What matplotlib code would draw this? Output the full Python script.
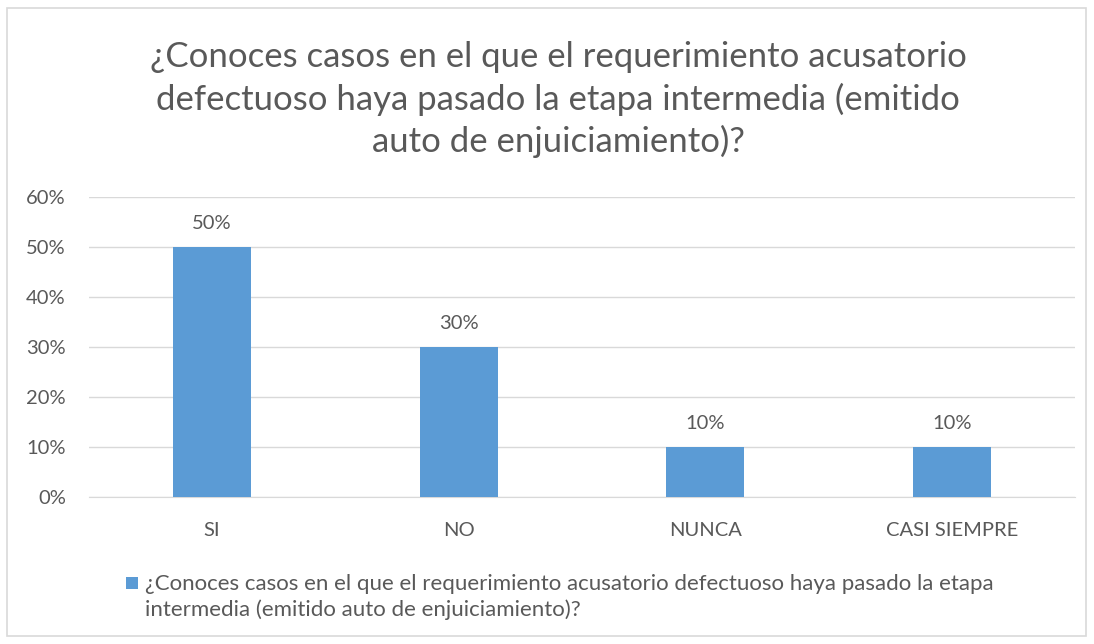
import matplotlib.pyplot as plt
from matplotlib.patches import Rectangle

# Data
categories = ["SI", "NO", "NUNCA", "CASI SIEMPRE"]
values = [0.50, 0.30, 0.10, 0.10]
yticks = [0, 0.1, 0.2, 0.3, 0.4, 0.5, 0.6]
ytick_labels = ["0%", "10%", "20%", "30%", "40%", "50%", "60%"]
title_lines = ["¿Conoces casos en el que el requerimiento acusatorio",
               "defectuoso haya pasado la etapa intermedia (emitido",
               "auto de enjuiciamiento)?"]
legend_lines = ["¿Conoces casos en el que el requerimiento acusatorio defectuoso haya pasado la etapa",
                "intermedia (emitido auto de enjuiciamiento)?"]

plt.rcParams['font.family'] = ['Lato', 'DejaVu Sans']
text_color = "#595959"
bar_color = "#5B9BD5"
grid_color = "#D9D9D9"

W, H = 1094, 644
fig = plt.figure(figsize=(W / 100, H / 100), dpi=100)

# outer chart border
fig.patches.append(Rectangle((7 / W, 8 / H), (1086 - 7) / W, (636 - 8) / H,
                             transform=fig.transFigure, fill=False,
                             edgecolor="#D9D9D9", linewidth=1.2))

ax = fig.add_axes([88.7 / W, 1 - 497 / H, (1075.3 - 88.7) / W, (497 - 197) / H])
x = range(len(categories))
ax.bar(x, values, width=0.316, color=bar_color, zorder=3)

for xi, v in zip(x, values):
    ax.annotate(f"{int(round(v * 100))}%", (xi, v), xytext=(0, 13),
                textcoords="offset points", ha="center", va="baseline",
                fontsize=14.5, color=text_color)

ax.set_xlim(-0.5, len(categories) - 0.5)
ax.set_ylim(0, 0.6)
ax.set_yticks(yticks)
ax.set_yticklabels(ytick_labels)
ax.set_xticks(list(x))
ax.set_xticklabels(categories)
ax.tick_params(axis="both", length=0, labelsize=14.5, labelcolor=text_color)
ax.tick_params(axis="x", pad=18)
ax.tick_params(axis="y", pad=16.5)
ax.yaxis.grid(True, color=grid_color, linewidth=1, zorder=0)
for side in ["top", "right", "left"]:
    ax.spines[side].set_visible(False)
ax.spines["bottom"].set_color(grid_color)

# title, one line at a time
for line, base in zip(title_lines, [67, 110, 152]):
    fig.text(558 / W, 1 - base / H, line, ha="center", va="baseline",
             fontsize=25, color=text_color)

# legend
fig.patches.append(Rectangle((126 / W, 1 - 589 / H), 12 / W, 12 / H,
                             transform=fig.transFigure, facecolor=bar_color,
                             edgecolor="none"))
for line, base in zip(legend_lines, [590, 616]):
    fig.text(145 / W, 1 - base / H, line, ha="left", va="baseline",
             fontsize=16, color=text_color)

fig.savefig("out.png", dpi=100)
